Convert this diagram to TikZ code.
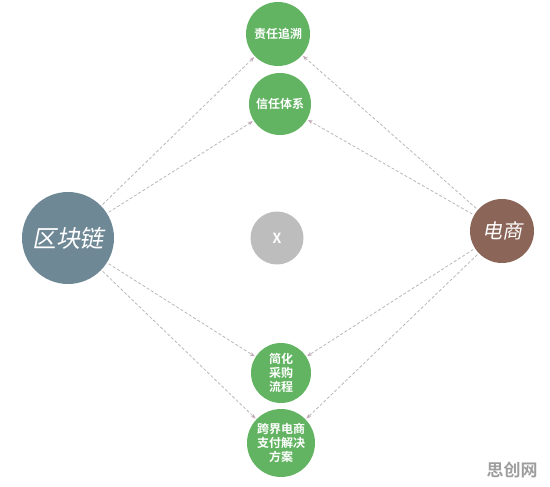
\documentclass[tikz,border=0pt]{standalone}
\usepackage{fontspec}
\newfontfamily\cjk{Noto Sans CJK SC}
\newfontfamily\cjkb{Noto Sans CJK SC Bold}
\newfontfamily\cjki[FakeSlant=0.2]{Noto Sans CJK SC}
\usetikzlibrary{arrows.meta}
\definecolor{gr}{HTML}{62B462}
\definecolor{slate}{HTML}{6F8896}
\definecolor{brn}{HTML}{8B6558}
\definecolor{gry}{HTML}{BDBDBD}
\definecolor{ln}{HTML}{B8B8B8}
\definecolor{tip}{HTML}{C4A8B8}
\begin{document}
\begin{tikzpicture}[x=1pt,y=-1pt,
  gnode/.style={circle,fill=gr,text=white,inner sep=0pt,align=center,font=\cjkb\fontsize{12}{14}\selectfont},
  conn/.style={draw=ln,dashed,dash pattern=on 3pt off 2pt,line width=0.8pt,-{Stealth[length=5pt,width=4pt,fill=tip,color=tip]},shorten >=1pt,shorten <=2pt}]
\useasboundingbox (0,0) rectangle (550,487);
\node[gnode,minimum size=64pt] (a) at (278,34) {责任追溯};
\node[gnode,minimum size=62pt] (b) at (280,104) {信任体系};
\node[gnode,minimum size=60pt] (c) at (281,373) {简化\\采购\\流程};
\node[gnode,minimum size=68pt] (d) at (281,443) {跨界电商\\支付解决\\方案};
\node[circle,fill=slate,minimum size=92pt,inner sep=0pt,text=white,font=\cjki\fontsize{24}{26}\selectfont] (L) at (68,238) {区块链};
\node[circle,fill=brn,minimum size=64pt,inner sep=0pt,text=white,font=\cjki\fontsize{20}{22}\selectfont] (R) at (502,231) {电商};
\node[circle,fill=gry,minimum size=53pt,inner sep=0pt,text=white,font=\cjkb\fontsize{14}{16}\selectfont] (X) at (277,238) {X};
\draw[conn] (L) -- (a);
\draw[conn] (L) -- (b);
\draw[conn] (L) -- (c);
\draw[conn] (L) -- (d);
\draw[conn] (R) -- (a);
\draw[conn] (R) -- (b);
\draw[conn] (R) -- (c);
\draw[conn] (R) -- (d);
\node[text=black!38,font=\cjkb\fontsize{17}{19}\selectfont] (wm) at (512,470) {思创网};
\end{tikzpicture}
\end{document}
